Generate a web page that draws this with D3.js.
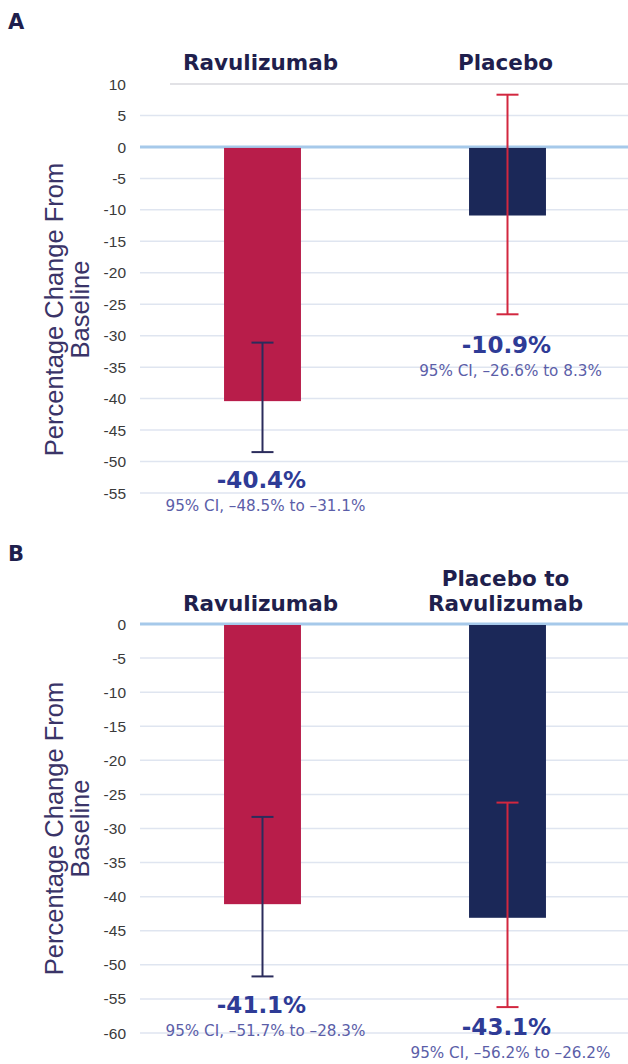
<!DOCTYPE html>
<html><head><meta charset="utf-8">
<script src="https://cdn.jsdelivr.net/npm/d3@7"></script>
<style>html,body{margin:0;padding:0;background:#fff;}svg{display:block;}</style>
</head><body>
<script>
// ---- Data ----
const categoriesA = ["Ravulizumab", "Placebo"];
const valuesA = [-40.4, -10.9];
const ciLowA = [-48.5, -26.6];
const ciHighA = [-31.1, 8.3];
const ticksA = [10, 5, 0, -5, -10, -15, -20, -25, -30, -35, -40, -45, -50, -55];

const categoriesB = ["Ravulizumab", "Placebo to Ravulizumab"];
const headerLinesB = [["Ravulizumab"], ["Placebo to", "Ravulizumab"]];
const valuesB = [-41.1, -43.1];
const ciLowB = [-51.7, -56.2];
const ciHighB = [-28.3, -26.2];
const ticksB = [0, -5, -10, -15, -20, -25, -30, -35, -40, -45, -50, -55, -60];

const valueLabelsA = ["-40.4%", "-10.9%"];
const ciLabelsA = ["95% CI, \u201348.5% to \u201331.1%", "95% CI, \u201326.6% to 8.3%"];
const valueLabelsB = ["-41.1%", "-43.1%"];
const ciLabelsB = ["95% CI, \u201351.7% to \u201328.3%", "95% CI, \u201356.2% to \u201326.2%"];

// ---- Styles ----
const W = 628, H = 1064;
const barColors = ["#b81d4a", "#1b2858"];
const errColors = ["#2b2c5c", "#d2273f"];
const headerColor = "#1f1f4d";
const valueColor = "#2e3b96";
const ciColor = "#5b5ea8";
const tickColor = "#3a3a3a";
const titleColor = "#3a3468";

const svg = d3.select("body").append("svg").attr("width", W).attr("height", H);
svg.append("rect").attr("width", W).attr("height", H).attr("fill", "#fff");

function panel(cfg) {
  const g = svg.append("g");
  const y = d3.scaleLinear().domain(cfg.domain).range(cfg.range);
  const x = d3.scaleBand().domain(cfg.cats).range([140, 630]).paddingInner(0.686).paddingOuter(0.343);

  g.append("text").attr("x", 8).attr("y", cfg.letterY).text(cfg.letter)
    .attr("font-family", "DejaVu Sans, sans-serif").attr("font-weight", "bold")
    .attr("font-size", 21).attr("fill", headerColor);

  g.selectAll("line.grid").data(cfg.ticks).enter().append("line")
    .attr("x1", d => d === cfg.domain[0] && d !== 0 ? 170 : 140).attr("x2", W)
    .attr("y1", d => y(d)).attr("y2", d => y(d))
    .attr("stroke", d => d === 0 ? "#a6c9ea" : (d === cfg.domain[0] ? "#d9d9de" : "#dfe5f0"))
    .attr("stroke-width", d => d === 0 ? 3 : 1.5);

  g.selectAll("text.tick").data(cfg.ticks).enter().append("text")
    .attr("x", 126).attr("y", d => y(d)).attr("dy", "0.36em")
    .attr("text-anchor", "end").text(d => d)
    .attr("font-family", "Liberation Sans, Arial, sans-serif").attr("font-size", 15.5)
    .attr("fill", tickColor);

  const cy = (cfg.range[0] + cfg.range[1]) / 2 + cfg.titleShift;
  const t = g.append("text").attr("transform", `translate(0,${cy}) rotate(-90)`)
    .attr("text-anchor", "middle")
    .attr("font-family", "Liberation Sans, Arial, sans-serif").attr("font-size", 25.5)
    .attr("fill", titleColor);
  t.append("tspan").attr("x", 0).attr("y", 63).text("Percentage Change From");
  t.append("tspan").attr("x", 0).attr("y", 89).text("Baseline");

  cfg.headers.forEach((lines, i) => {
    const cx = x(cfg.cats[i]) + x.bandwidth() / 2;
    lines.forEach((ln, j) => {
      g.append("text").attr("x", cx - 2).attr("y", cfg.headerY - (lines.length - 1 - j) * 25)
        .attr("text-anchor", "middle").text(ln)
        .attr("font-family", "DejaVu Sans, sans-serif").attr("font-weight", "bold")
        .attr("font-size", 21.5).attr("fill", headerColor);
    });
  });

  g.selectAll("rect.bar").data(cfg.values).enter().append("rect")
    .attr("x", (d, i) => x(cfg.cats[i])).attr("width", x.bandwidth())
    .attr("y", y(0) + 1).attr("height", d => y(d) - y(0) - 1)
    .attr("fill", (d, i) => barColors[i]);

  cfg.values.forEach((v, i) => {
    const cx = x(cfg.cats[i]) + x.bandwidth() / 2;
    const eg = g.append("g").attr("stroke", errColors[i]).attr("stroke-width", 2);
    eg.append("line").attr("x1", cx).attr("x2", cx).attr("y1", y(cfg.hi[i])).attr("y2", y(cfg.lo[i]));
    [cfg.hi[i], cfg.lo[i]].forEach(e => {
      eg.append("line").attr("x1", cx - 11).attr("x2", cx + 11).attr("y1", y(e)).attr("y2", y(e));
    });
    const by = y(cfg.lo[i]) + cfg.labelGap[i];
    g.append("text").attr("x", cx - 1).attr("y", by).attr("text-anchor", "middle")
      .text(cfg.valLabels[i])
      .attr("font-family", "DejaVu Sans, sans-serif").attr("font-weight", "bold")
      .attr("font-size", 23).attr("fill", valueColor);
    g.append("text").attr("x", cx + 3).attr("y", by + 23).attr("text-anchor", "middle")
      .text(cfg.ciLabels[i])
      .attr("font-family", "DejaVu Sans, sans-serif")
      .attr("font-size", 15.2).attr("fill", ciColor);
  });
}

panel({
  letter: "A", letterY: 29, cats: categoriesA, headers: categoriesA.map(c => [c]),
  headerY: 70, domain: [10, -55], range: [84, 493], ticks: ticksA,
  values: valuesA, lo: ciLowA, hi: ciHighA, valLabels: valueLabelsA, ciLabels: ciLabelsA,
  labelGap: [36, 39], titleShift: 21
});
panel({
  letter: "B", letterY: 561, cats: categoriesB, headers: headerLinesB,
  headerY: 611, domain: [0, -60], range: [624, 1033], ticks: ticksB,
  values: valuesB, lo: ciLowB, hi: ciHighB, valLabels: valueLabelsB, ciLabels: ciLabelsB,
  labelGap: [37, 28], titleShift: 0
});
</script>
</body></html>
